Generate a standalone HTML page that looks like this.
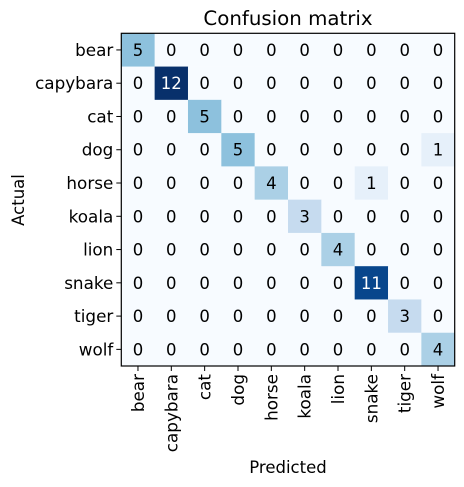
<!DOCTYPE html>
<html><head><meta charset="utf-8"><style>
body{margin:0;background:#fff;}
svg text{font-family:"DejaVu Sans","Liberation Sans",sans-serif;}
</style></head><body>
<svg width="464" height="487" viewBox="0 0 464 487" xmlns="http://www.w3.org/2000/svg" style="position:absolute;left:0;top:0">
<g id="cells"></g>
<g id="axes"></g>
<text x="288" y="25" text-anchor="middle" font-size="19.8">Confusion matrix</text>
<text x="288" y="473" text-anchor="middle" font-size="16.5">Predicted</text>
<text transform="translate(24,200) rotate(-90)" text-anchor="middle" font-size="16.5">Actual</text>
</svg>
<script>
const labels = ["bear","capybara","cat","dog","horse","koala","lion","snake","tiger","wolf"];
const matrix = [
[5,0,0,0,0,0,0,0,0,0],
[0,12,0,0,0,0,0,0,0,0],
[0,0,5,0,0,0,0,0,0,0],
[0,0,0,5,0,0,0,0,0,1],
[0,0,0,0,4,0,0,1,0,0],
[0,0,0,0,0,3,0,0,0,0],
[0,0,0,0,0,0,4,0,0,0],
[0,0,0,0,0,0,0,11,0,0],
[0,0,0,0,0,0,0,0,3,0],
[0,0,0,0,0,0,0,0,0,4]
];
const NS="http://www.w3.org/2000/svg";
const X0=121.3,Y0=33.3,W=333.4,H=332.7,n=labels.length;
const cw=W/n,ch=H/n;
const xPos=i=>X0+i*cw, yPos=i=>Y0+i*ch;
const stops=[[0,[247,251,255]],[0.125,[222,235,247]],[0.25,[198,219,239]],[0.375,[158,202,225]],[0.5,[107,174,214]],[0.625,[66,146,198]],[0.75,[33,113,181]],[0.875,[8,81,156]],[1,[8,48,107]]];
function blues(t){for(let i=1;i<stops.length;i++){if(t<=stops[i][0]){const a=stops[i-1],b=stops[i],f=(t-a[0])/(b[0]-a[0]);return 'rgb('+a[1].map((v,k)=>Math.round(v+(b[1][k]-v)*f)).join(',')+')';}}return 'rgb(8,48,107)';}
const vmax=Math.max(...matrix.flat());
const cells=document.getElementById('cells'),axes=document.getElementById('axes');
function mk(tag,attrs,parent){const e=document.createElementNS(NS,tag);for(const k in attrs)e.setAttribute(k,attrs[k]);parent.appendChild(e);return e;}
matrix.forEach((row,r)=>row.forEach((v,c)=>{
 const rect=mk('rect',{x:xPos(c),y:yPos(r),width:cw+0.3,height:ch+0.3,fill:blues(v/vmax)},cells);
 
 
 const t=mk('text',{x:xPos(c)+cw/2,y:yPos(r)+ch/2+6,'text-anchor':'middle','font-size':'16.5',fill:v>vmax/2?'#fff':'#000'},cells);
 t.textContent=v;
 
 
}));
const frame=mk('rect',{x:X0,y:Y0,width:W,height:H,fill:'none',stroke:'#000','stroke-width':1.2},axes);


labels.forEach((l,i)=>{
 const cy=yPos(i)+ch/2;
 mk('line',{x1:X0-5,x2:X0,y1:cy,y2:cy,stroke:'#000'},axes);
 const t=mk('text',{x:X0-8,y:cy+6,'text-anchor':'end','font-size':'16.8'},axes);
 t.textContent=l;
 
 
 const cx=xPos(i)+cw/2;
 mk('line',{x1:cx,x2:cx,y1:Y0+H,y2:Y0+H+5,stroke:'#000'},axes);
 const tx=mk('text',{x:0,y:0,'text-anchor':'end','font-size':'16.8',transform:`translate(${cx+6},${Y0+H+8}) rotate(-90)`},axes);
 tx.textContent=l;
 
 
});
</script>
</body></html>
